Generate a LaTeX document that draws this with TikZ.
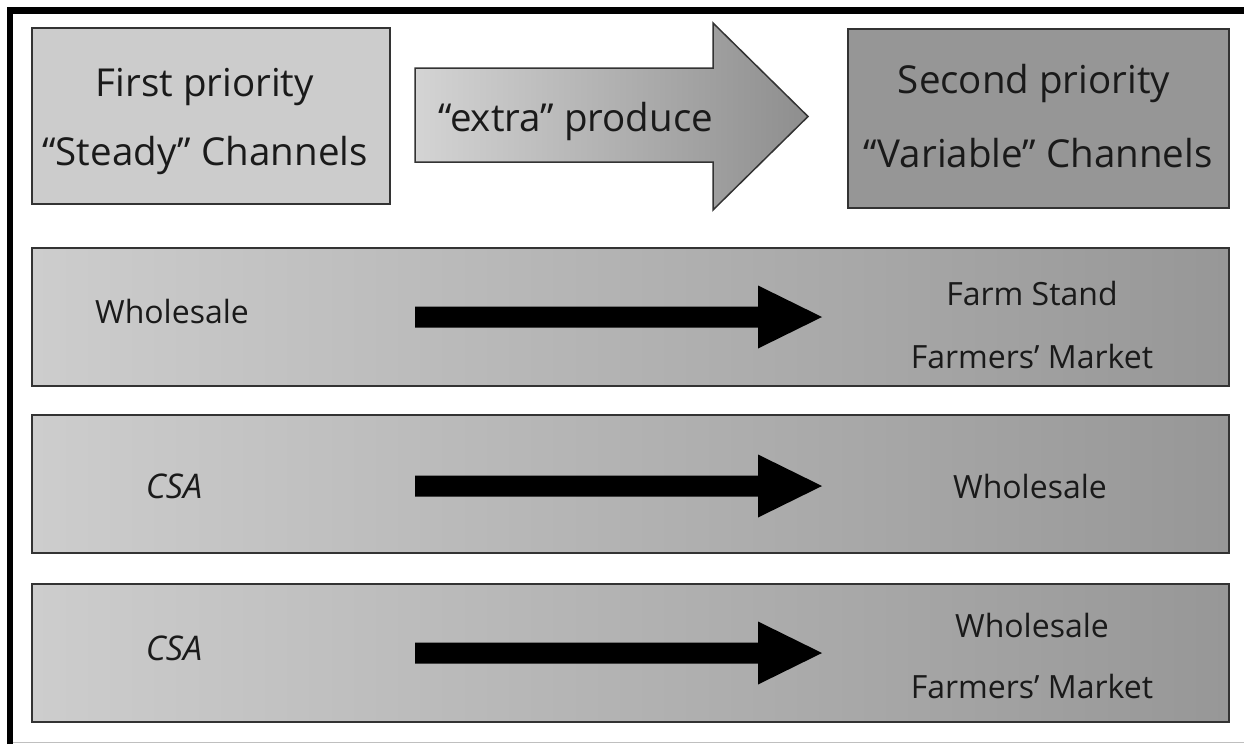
\documentclass[tikz,border=0pt]{standalone}
\usepackage{fontspec}
\setmainfont{Open Sans}
\definecolor{txt}{HTML}{1A1A1A}
\definecolor{edge}{HTML}{333333}
\definecolor{boxA}{HTML}{CCCCCC}
\definecolor{boxB}{HTML}{969696}
\definecolor{gradL}{HTML}{CDCDCD}
\definecolor{gradR}{HTML}{979797}
\definecolor{arrL}{HTML}{D4D4D4}
\definecolor{arrR}{HTML}{8E8E8E}
\begin{document}
\begin{tikzpicture}[x=1pt,y=-1pt,
  plainbox/.style={draw=edge, line width=2pt, inner sep=0pt},
  rowbox/.style={plainbox, left color=gradL, right color=gradR, minimum width=1197pt, minimum height=138pt},
  head/.style={anchor=base, text=txt, inner sep=0pt, font=\fontsize{38.5}{40}\selectfont},
  rowtxt/.style={anchor=base, text=txt, inner sep=0pt, font=\fontsize{32}{34}\selectfont},
  csatxt/.style={rowtxt, font=\fontsize{34}{36}\selectfont\itshape},
  blockarrow/.style={fill=black}
]
\useasboundingbox (0,0) rectangle (1244,744);
% frame
\draw[line width=6.5pt] (10,744) -- (10,10.5) -- (1244,10.5);
\draw[black!25, line width=1.5pt] (13,742.5) -- (1244,742.5);

% header boxes
\node[plainbox, fill=boxA, minimum width=358pt, minimum height=176pt] (first) at (211,116) {};
\node[head] (first1) at (205,96) {First priority};
\node[head] (first2) at (205,165) {“Steady” Channels};

\path[draw=edge, line width=1.5pt, left color=arrL, right color=arrR]
  (415,68) -- (713,68) -- (713,23) -- (808,116.5) -- (713,210) -- (713,162) -- (415,162) -- cycle;
\node[head] (extra) at (576,131) {“extra” produce};

\node[plainbox, fill=boxB, minimum width=381pt, minimum height=179pt] (second) at (1038.5,118.5) {};
\node[head] (second1) at (1034,93) {Second priority};
\node[head] (second2) at (1038,167) {“Variable” Channels};

% rows
\node[rowbox] (row1) at (630.5,317) {};
\node[rowbox] (row2) at (630.5,484) {};
\node[rowbox] (row3) at (630.5,653) {};

\node[rowtxt] (r1l) at (172,323) {Wholesale};
\node[rowtxt] (r1a) at (1032,305) {Farm Stand};
\node[rowtxt] (r1b) at (1032,368) {Farmers’ Market};

\node[csatxt] (r2l) at (174,498) {CSA};
\node[rowtxt] (r2r) at (1030,498) {Wholesale};

\node[csatxt] (r3l) at (174,660) {CSA};
\node[rowtxt] (r3a) at (1032,637) {Wholesale};
\node[rowtxt] (r3b) at (1032,698) {Farmers’ Market};

% row arrows
\coordinate (a1) at (415,317);
\coordinate (a2) at (415,486);
\coordinate (a3) at (415,653);
\foreach \c in {a1,a2,a3}{
  \fill[blockarrow, shift={(\c)}] (0,-10.5) -- (343,-10.5) -- (343,-31.5) -- (407,0) -- (343,31.5) -- (343,10.5) -- (0,10.5) -- cycle;
}
\end{tikzpicture}
\end{document}
